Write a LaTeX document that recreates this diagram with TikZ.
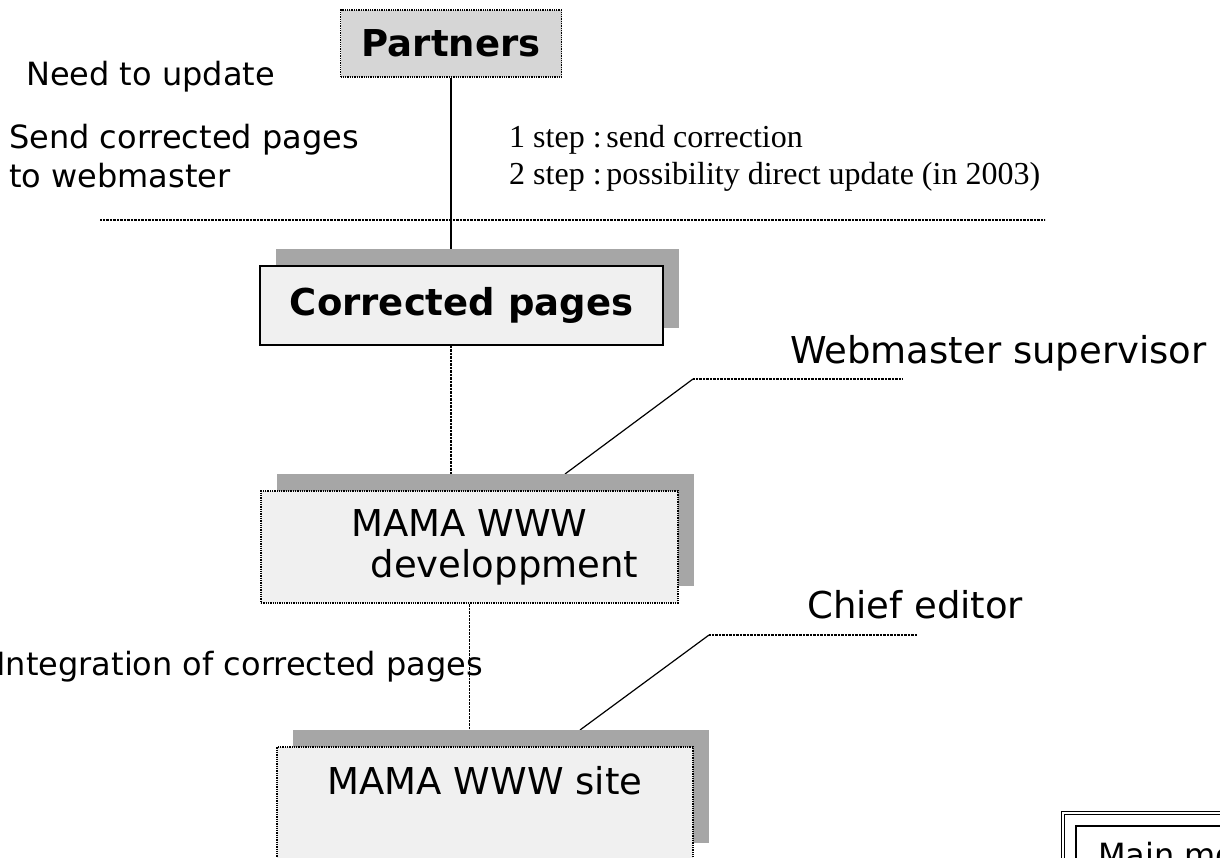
\documentclass[tikz,border=0pt]{standalone}
\usepackage{fontspec}
\usetikzlibrary{shadows,backgrounds}
\newfontfamily\verdfont{DejaVu Sans}
\newfontfamily\timesfont{Liberation Serif}
\definecolor{boxgray}{HTML}{F0F0F0}
\definecolor{headgray}{HTML}{D6D6D6}
\definecolor{shadegray}{HTML}{A6A6A6}
\tikzset{
  bigtext/.style={font=\verdfont\fontsize{37pt}{41pt}\selectfont},
  headtext/.style={font=\verdfont\bfseries\fontsize{37pt}{41pt}\selectfont},
  sidetext/.style={font=\verdfont\fontsize{32pt}{39pt}\selectfont},
  notetext/.style={font=\timesfont\fontsize{32pt}{38pt}\selectfont},
  pagebox/.style={rectangle, draw, fill=boxgray, line width=1.3pt,
    drop shadow={shadow xshift=16pt, shadow yshift=17pt, fill=shadegray, opacity=1}}
}

\begin{document}
\begin{tikzpicture}[x=1pt,y=-1pt]
\useasboundingbox (0,0) rectangle (1220,857);
\clip (0,0) rectangle (1220,857);

\begin{scope}[every node/.style={line width=1.3pt}]
	\node[draw, densely dotted, fill=headgray, minimum width=221pt, minimum height=67pt, headtext] (partners) at (451,43.5) {Partners};
	\node[pagebox, line width=1.7pt, minimum width=403pt, minimum height=79pt, headtext] (corrected) at (461.5,305.5) {Corrected pages};
	\node[pagebox, densely dotted, minimum width=417pt, minimum height=112pt, bigtext, align=center] (dev) at (469.5,547) {MAMA WWW\\\hspace*{70pt}developpment};
	\node[pagebox, densely dotted, minimum width=416pt, minimum height=113pt, bigtext, text height=28pt, text depth=47pt] (site) at (485,803.5) {MAMA WWW site};
\end{scope}

\begin{scope}[every node/.style={inner sep=0pt}]
	\node[sidetext, anchor=base west] (needupd) at (26,85) {Need to update};
	\node[sidetext, anchor=north west, align=left] (sendpg) at (9,124) {Send corrected pages\\to webmaster};
	\node[notetext, anchor=base west] (stepone) at (509,147) {1 step :\hspace{0.15em}send correction};
	\node[notetext, anchor=base west] (steptwo) at (509,184) {2 step :\hspace{0.15em}possibility direct update (in 2003)};
	\node[bigtext, anchor=base west] (websup) at (790,363) {Webmaster supervisor};
	\node[bigtext, anchor=base west] (chief) at (807,618) {Chief editor};
	\node[sidetext, anchor=base east] (integ) at (483,675) {Integration of corrected pages};
	\node[sidetext, anchor=base west] (menu) at (1098,866) {Main mo};
\end{scope}

% separator and leader lines
\coordinate (sepleft) at (100,220);
\coordinate (sepright) at (1045,220);
\coordinate (wsbend) at (693,379);
\coordinate (wsend) at (902,379);
\coordinate (wsfoot) at (565,474);
\coordinate (cebend) at (709,635);
\coordinate (ceend) at (917,635);
\coordinate (cefoot) at (580,730);

\begin{scope}[on background layer, every edge/.style={draw=black, line width=1.2pt}]
	\path [line width=1.6pt] (partners.south) edge (partners.south |- corrected.north);
	\path [densely dotted] (corrected.south -| partners.south) edge (dev.north -| partners.south);
	\path [densely dotted] (dev.south) edge (dev.south |- site.north);
	\path [densely dotted] (sepleft) edge (sepright);
	\path [densely dotted] (wsbend) edge (wsend);
	\path (wsfoot) edge (wsbend);
	\path [densely dotted] (cebend) edge (ceend);
	\path (cefoot) edge (cebend);
\end{scope}

% main menu frame
\draw[line width=1.3pt] (1076,826) rectangle (1240,900);
\draw[line width=1.1pt, double, double distance=2.5pt] (1063,813) rectangle (1250,910);
\end{tikzpicture}
\end{document}
